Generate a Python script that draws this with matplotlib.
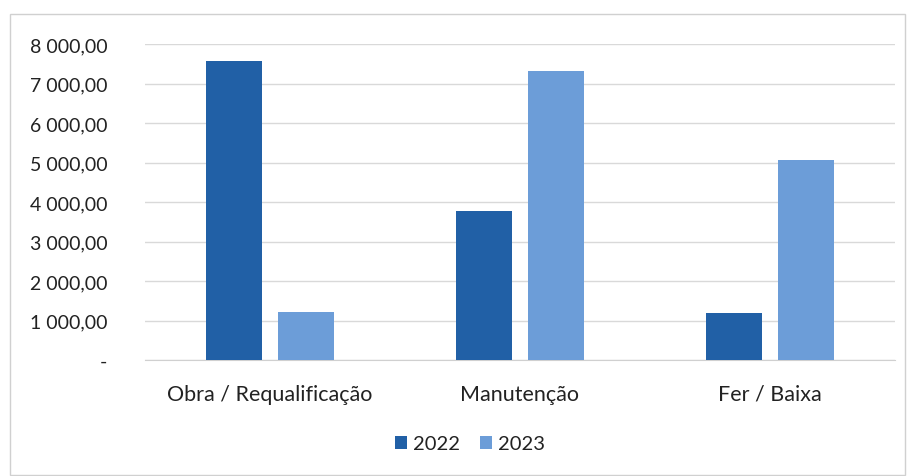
import matplotlib
matplotlib.use("Agg")
import matplotlib.pyplot as plt
from matplotlib.patches import Rectangle
from matplotlib.ticker import FuncFormatter
import numpy as np

categories = ["Obra / Requalificação", "Manutenção", "Fer / Baixa"]
series_names = ["2022", "2023"]
values_2022 = [7570, 3770, 1190]
values_2023 = [1215, 7320, 5060]
y_ticks = [0, 1000, 2000, 3000, 4000, 5000, 6000, 7000, 8000]

colors = ["#2160a6", "#6c9dd8"]

plt.rcParams["font.family"] = ["Lato", "DejaVu Sans"]

W, H = 912, 477
fig = plt.figure(figsize=(W / 100, H / 100), dpi=100)

# outer chart frame
fig.patches.append(Rectangle((10 / W, 1 - 476 / H), 895 / W, 461 / H,
                             transform=fig.transFigure, fill=False,
                             edgecolor="#d0d0d0", linewidth=1.0))

ax = fig.add_axes([145 / W, 1 - 361 / H, 750 / W, 316 / H])

x = np.arange(len(categories))
bw = 0.224
off = 0.144
ax.bar(x - off, values_2022, bw, color=colors[0], label=series_names[0], zorder=3)
ax.bar(x + off, values_2023, bw, color=colors[1], label=series_names[1], zorder=3)

ax.set_xlim(-0.5, 2.5)
ax.set_ylim(0, 8000)
ax.set_yticks(y_ticks)


def fmt(v, pos):
    if v == 0:
        return "-"
    return f"{v:,.2f}".replace(",", " ").replace(".", ",")


ax.yaxis.set_major_formatter(FuncFormatter(fmt))
ax.grid(axis="y", color="#d9d9d9", linewidth=1.0, zorder=0)
for s in ["top", "right", "left"]:
    ax.spines[s].set_visible(False)
ax.spines["bottom"].set_color("#d0d0d0")
ax.tick_params(axis="both", length=0, colors="#222222")
ax.tick_params(axis="y", pad=27, labelsize=14)
ax.tick_params(axis="x", pad=17, labelsize=15.5)
ax.set_xticks(x)
ax.set_xticklabels(categories)

fig.legend(loc="center", bbox_to_anchor=(470 / W, 1 - 445 / H), ncol=2,
           frameon=False, fontsize=14.5, handlelength=0.6, handleheight=0.6,
           handletextpad=0.3, columnspacing=1.0, labelcolor="#222222")

fig.savefig("out.png", dpi=100, facecolor="white")
